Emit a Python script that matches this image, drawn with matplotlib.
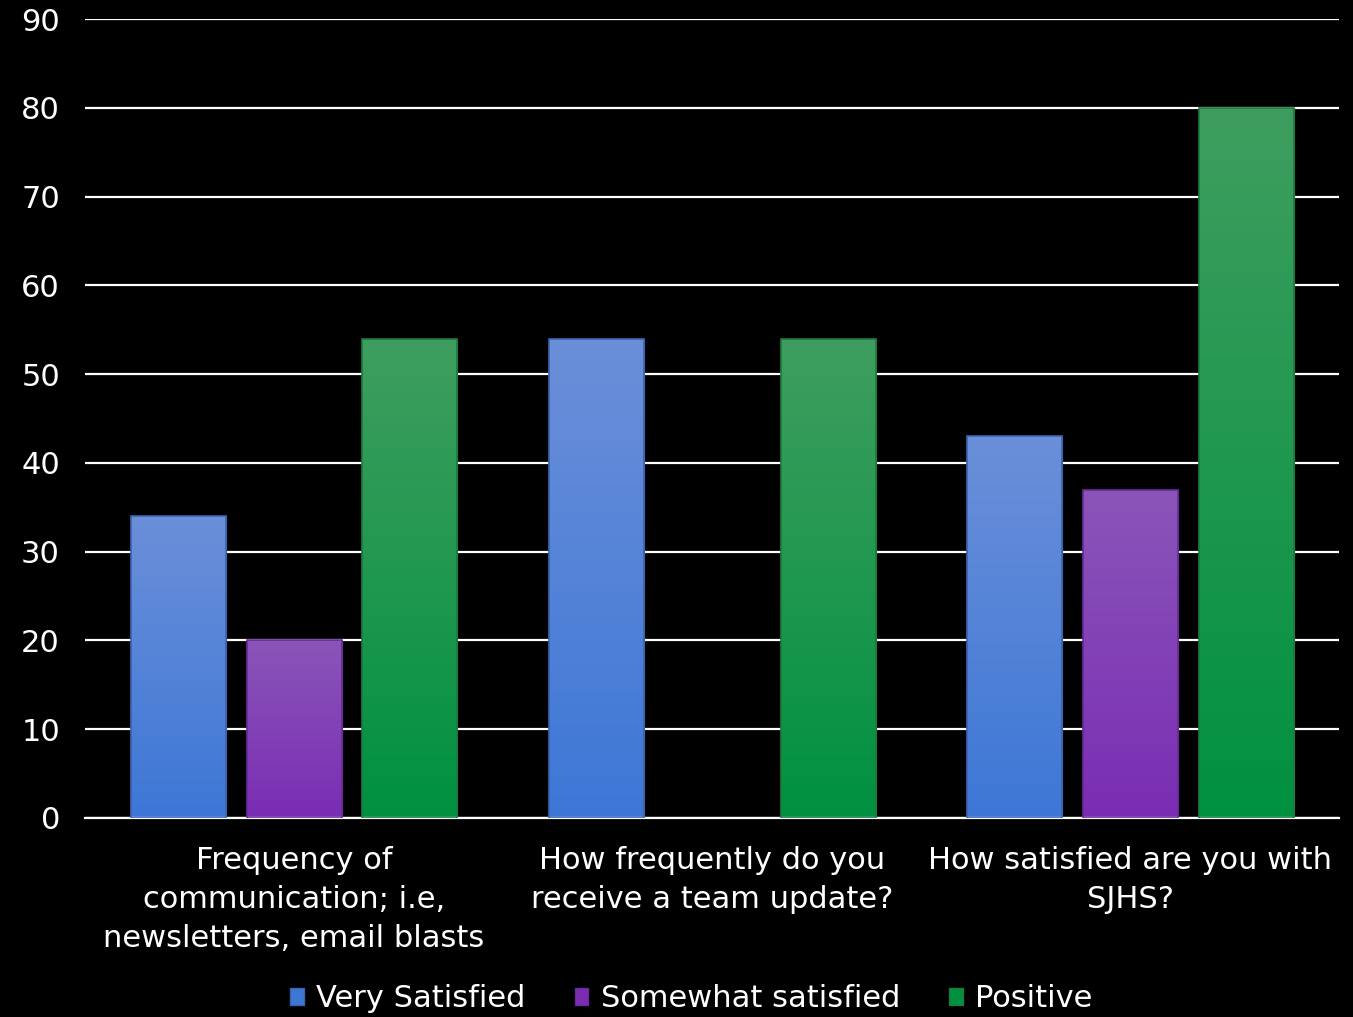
import matplotlib
matplotlib.use("Agg")
import matplotlib.pyplot as plt
import numpy as np
from matplotlib.colors import LinearSegmentedColormap
from matplotlib.patches import Patch

# survey results
categories = ["Frequency of\ncommunication; i.e,\nnewsletters, email blasts",
              "How frequently do you\nreceive a team update?",
              "How satisfied are you with\nSJHS?"]
very_satisfied = [34, 54, 43]
somewhat_satisfied = [20, 0, 37]
positive = [54, 54, 80]
series_names = ["Very Satisfied", "Somewhat satisfied", "Positive"]

# (top colour, bottom colour) of each series gradient
grads = [("#6b8fd9", "#3d77d6"),
         ("#8a55b9", "#7a2db3"),
         ("#3f9e5f", "#009140")]
edges = ["#3a64b0", "#6a2a9a", "#1d7a3e"]

plt.rcParams['font.family'] = ['DejaVu Sans']

fig = plt.figure(figsize=(13.53, 10.17), dpi=100, facecolor="black")
ax = fig.add_axes([0.0628, 0.1957, 0.9272, 0.7856])
ax.set_facecolor("black")

x = np.arange(len(categories))
width = 0.227
step = 0.277
data = [very_satisfied, somewhat_satisfied, positive]

ax.set_xlim(-0.5, len(categories) - 0.5)
ax.set_ylim(0, 90)
ax.set_yticks(range(0, 91, 10))
ax.yaxis.grid(True, color="white", linewidth=1.6)
ax.set_axisbelow(True)

for i, vals in enumerate(data):
    pos = x + (i - 1) * step
    bars = ax.bar(pos, vals, width, color=grads[i][1], edgecolor=edges[i],
                  linewidth=0.8, zorder=2)
    cmap = LinearSegmentedColormap.from_list("g%d" % i, [grads[i][1], grads[i][0]])
    for b in bars:
        h = b.get_height()
        if h <= 0:
            continue
        x0 = b.get_x()
        grad = np.linspace(0, 1, 256).reshape(-1, 1)
        im = ax.imshow(grad, cmap=cmap, origin="lower", aspect="auto",
                       extent=[x0, x0 + b.get_width(), 0, h], zorder=2.5)
        im.set_clip_path(b)
        # soft edge
        ax.bar(b.get_x() + b.get_width() / 2, h, b.get_width(), fill=False,
               edgecolor=edges[i], linewidth=1.2, zorder=3)

ax.set_xlim(-0.5, len(categories) - 0.5)
ax.set_ylim(0, 90)

ax.set_xticks(x)
ax.set_xticklabels(categories, fontsize=22, color="white", linespacing=1.45)
ax.tick_params(axis="x", length=0, pad=20)
ax.tick_params(axis="y", length=0, pad=18, labelsize=22, labelcolor="white")

for s in ["top", "right", "left"]:
    ax.spines[s].set_visible(False)
ax.spines["bottom"].set_color("white")
ax.spines["bottom"].set_linewidth(1.6)

handles = [Patch(facecolor=grads[i][1], edgecolor=edges[i]) for i in range(3)]
fig.legend(handles, series_names, loc="center", bbox_to_anchor=(0.511, 0.018),
           ncol=3, frameon=False, fontsize=22, labelcolor="white",
           handlelength=0.45, handleheight=0.45, handletextpad=0.4,
           columnspacing=1.6)

fig.savefig("out.png", dpi=100, facecolor="black")
